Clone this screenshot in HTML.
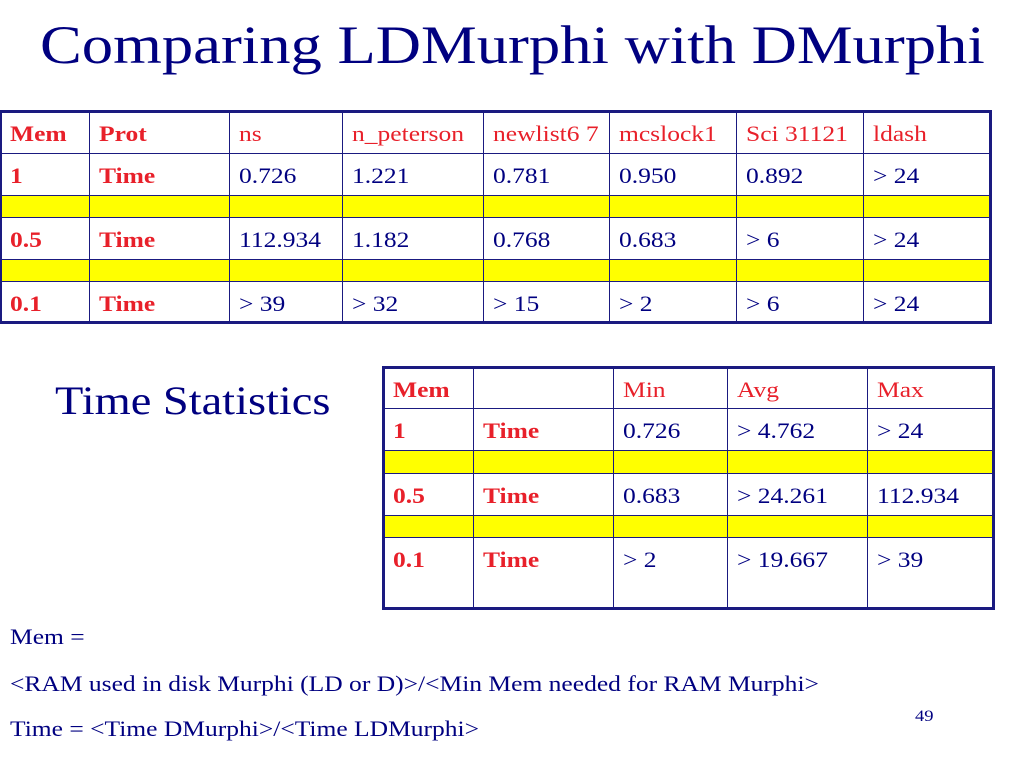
<!DOCTYPE html>
<html><head><meta charset="utf-8"><style>
body{margin:0;width:1024px;height:768px;background:#fff;position:relative;overflow:hidden;font-family:"Liberation Serif",serif;}
.t{position:absolute;color:#000080;transform:scaleX(1.16);transform-origin:0 0;white-space:nowrap;}
.cell{position:absolute;box-sizing:border-box;border:1px solid #1a1a80;font-size:22px;padding:9px 0 0 9px;color:#000080;white-space:nowrap;}
.cell span{display:inline-block;transform:scaleX(1.16);transform-origin:0 0;}
.red{color:#e8202a;}.b{font-weight:bold;}.y{background:#ffff00;}
.frame{position:absolute;border:3px solid #1a1a80;box-sizing:border-box;pointer-events:none;}
</style></head><body>
<div class="t" style="left:40px;top:14px;font-size:54px;">Comparing LDMurphi with DMurphi</div>
<div class="t" style="left:55px;top:377px;font-size:40px;">Time Statistics</div>
<div class="t" style="left:10px;top:624px;font-size:22px;">Mem =</div>
<div class="t" style="left:10px;top:671px;font-size:22px;">&lt;RAM used in disk Murphi (LD or D)&gt;/&lt;Min Mem needed for RAM Murphi&gt;</div>
<div class="t" style="left:10px;top:716px;font-size:22px;">Time = &lt;Time DMurphi&gt;/&lt;Time LDMurphi&gt;</div>
<div class="t" style="left:915px;top:708px;font-size:16px;">49</div>
<script>
function table(name, cols, rows, data){
  for(let r=0;r<rows.length-1;r++){
    const rowData=data[r];
    for(let c=0;c<cols.length-1;c++){
      const d=document.createElement('div');
      d.className='cell';
      d.style.left=cols[c]+'px';d.style.top=rows[r]+'px';
      d.style.width=(cols[c+1]-cols[c]+1)+'px';d.style.height=(rows[r+1]-rows[r]+1)+'px';
      if(rowData===null){d.classList.add('y');}
      else{
        const s=document.createElement('span');
        s.textContent=rowData[c];
        d.appendChild(s);
        if(r===0){d.classList.add('red');if(c<2)d.classList.add('b');}
        else if(c<2){d.classList.add('red','b');}
      }
      
      
      document.body.appendChild(d);
    }
  }
  const f=document.createElement('div');
  f.className='frame';
  f.style.left=(cols[0]-1)+'px';f.style.top=(rows[0]-1)+'px';
  f.style.width=(cols[cols.length-1]-cols[0]+3)+'px';f.style.height=(rows[rows.length-1]-rows[0]+3)+'px';
  
  
  document.body.appendChild(f);
}
table('comparison-table',[0,89,229,342,483,609,736,863,990],[111,153,195,217,259,281,322],[
 ['Mem','Prot','ns','n_peterson','newlist6 7','mcslock1','Sci 31121','ldash'],
 ['1','Time','0.726','1.221','0.781','0.950','0.892','> 24'],
 null,
 ['0.5','Time','112.934','1.182','0.768','0.683','> 6','> 24'],
 null,
 ['0.1','Time','> 39','> 32','> 15','> 2','> 6','> 24']]);
table('statistics-table',[383,473,613,727,867,993],[367,408,450,473,515,537,608],[
 ['Mem','','Min','Avg','Max'],
 ['1','Time','0.726','> 4.762','> 24'],
 null,
 ['0.5','Time','0.683','> 24.261','112.934'],
 null,
 ['0.1','Time','> 2','> 19.667','> 39']]);
</script>
</body></html>
